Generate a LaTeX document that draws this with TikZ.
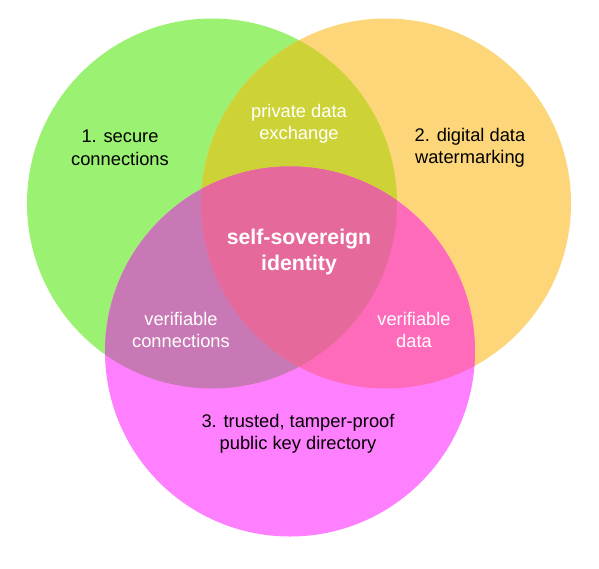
\documentclass[tikz,border=0pt]{standalone}
\usepackage{fontspec}
\setmainfont{Liberation Sans}
\definecolor{cgreen}{RGB}{155,241,114}
\definecolor{corange}{RGB}{254,214,122}
\definecolor{cpink}{RGB}{255,128,255}
\definecolor{colive}{RGB}{205,211,55}
\definecolor{cpurple}{RGB}{200,120,180}
\definecolor{chot}{RGB}{255,107,187}
\definecolor{ccenter}{RGB}{230,105,155}
\tikzset{
  lbl/.style={align=center, inner sep=0pt, font=\fontsize{18.3}{22.5}\selectfont},
  dark/.style={lbl, text=black},
  light/.style={lbl, text=white},
  big/.style={align=center, inner sep=0pt, text=white, font=\fontsize{21.3}{25.5}\selectfont\bfseries}
}
\begin{document}
\begin{tikzpicture}[x=1pt,y=-1pt]
\useasboundingbox (0,0) rectangle (599,568);
\fill[white] (0,0) rectangle (599,568);
\coordinate (G) at (212,203.5);
\coordinate (O) at (386,203.5);
\coordinate (P) at (290,351.5);
\def\R{185}
\fill[cgreen] (G) circle (\R);
\fill[corange] (O) circle (\R);
\fill[cpink] (P) circle (\R);
\begin{scope}
  \clip (G) circle (\R);
  \fill[colive] (O) circle (\R);
  \fill[cpurple] (P) circle (\R);
\end{scope}
\begin{scope}
  \clip (O) circle (\R);
  \fill[chot] (P) circle (\R);
\end{scope}
\begin{scope}
  \clip (G) circle (\R);
  \clip (O) circle (\R);
  \fill[ccenter] (P) circle (\R);
\end{scope}
\node[dark] (t1) at (120,148) {1. secure\\connections};
\node[dark] (t2) at (470,148) {2. digital data\\watermarking};
\node[dark] (t3) at (298,434) {3. trusted, tamper-proof\\public key directory};
\node[light] (t12) at (299,124) {private data\\exchange};
\node[light] (t13) at (181,330) {verifiable\\connections};
\node[light] (t23) at (414,330) {verifiable\\data};
\node[big] (tc) at (299,252) {self-sovereign\\identity};
\end{tikzpicture}
\end{document}
